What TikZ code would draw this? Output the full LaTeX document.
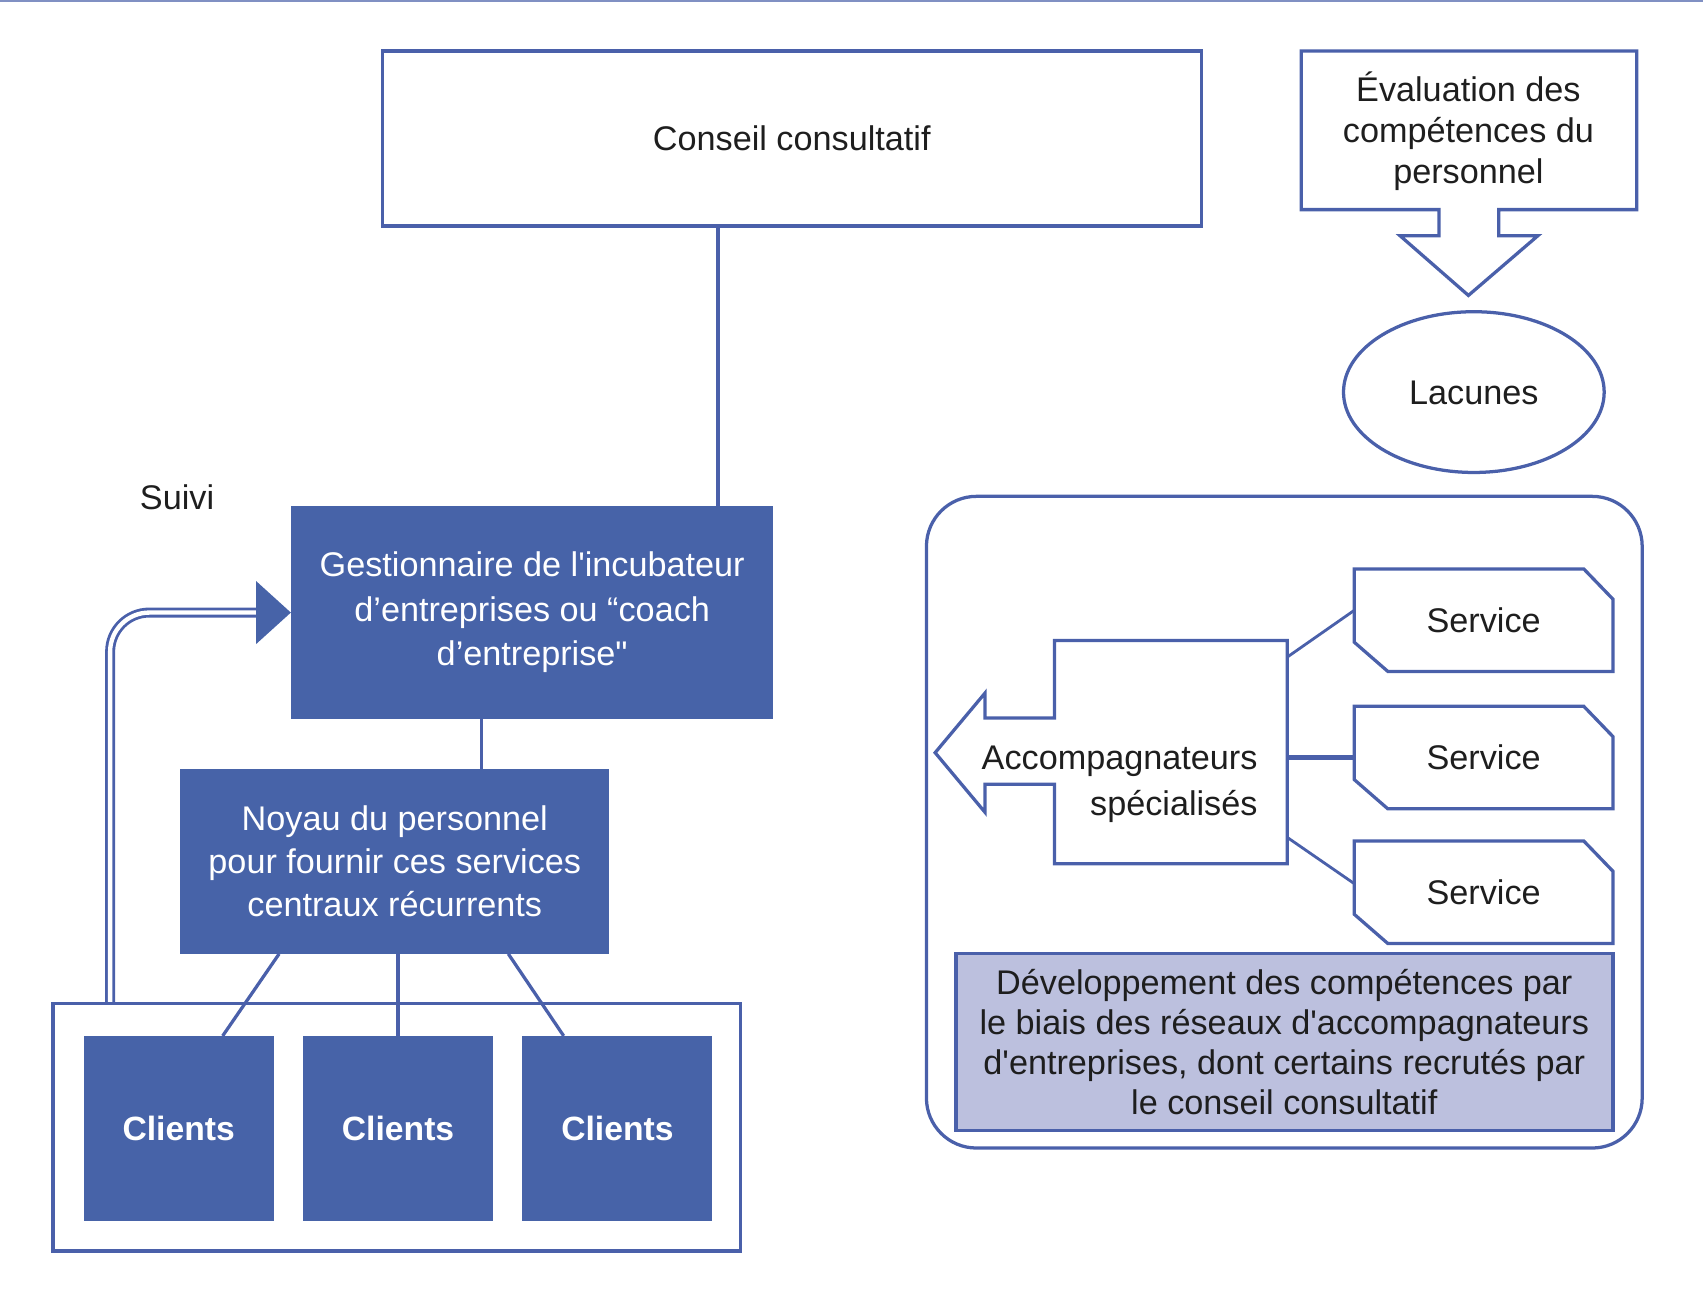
\documentclass[tikz,border=0pt]{standalone}
\usepackage{fontspec}
\setmainfont{Liberation Sans}[Ligatures=TeXOff]
\usetikzlibrary{calc,shapes.geometric}
\definecolor{bfill}{RGB}{71,99,168}
\definecolor{bline}{RGB}{74,96,170}
\definecolor{lav}{RGB}{188,192,222}
\definecolor{txt}{RGB}{30,30,30}
\begin{document}
\begin{tikzpicture}[x=1pt,y=-1pt,
  every node/.style={font=\fontsize{31.5}{38}\selectfont, text=txt, inner sep=0pt, align=center},
  wbox/.style={draw=bline, line width=3.2pt, fill=white, rectangle},
  bbox/.style={fill=bfill, rectangle, text=white},
  conn/.style={draw=bline, line width=3pt},
  outl/.style={draw=bline, line width=3pt, line join=miter},
  svc/.style={rectangle, minimum width=238pt, minimum height=94pt},
  dbl/.style={draw=bline, double=white, double distance=4pt, line width=2.6pt}
]
\useasboundingbox (0,0) rectangle (1568,1187);
\draw[draw=bline!70, line width=1.5pt] (0,1) -- (1568,1);

% Conseil consultatif
\node[wbox, minimum width=754pt, minimum height=161pt] (conseil) at (729,127.5) {Conseil consultatif};

% Gestionnaire
\node[bbox, minimum width=444pt, minimum height=196pt, font=\fontsize{31.5}{41}\selectfont] (gest) at (490,564)
  {Gestionnaire de l'incubateur\\d’entreprises ou “coach\\d’entreprise"};

% Noyau
\node[bbox, minimum width=395pt, minimum height=170pt, font=\fontsize{31.5}{40}\selectfont] (noyau) at (363.5,793)
  {Noyau du personnel\\pour fournir ces services\\centraux récurrents};

% Clients
\node[wbox, minimum width=633pt, minimum height=228pt] (cl) at (365.5,1038) {};
\node[bbox, minimum width=175pt, minimum height=170pt, font=\fontsize{31}{38}\selectfont\bfseries] (c1) at (164.5,1039) {Clients};
\node[bbox, minimum width=175pt, minimum height=170pt, font=\fontsize{31}{38}\selectfont\bfseries] (c2) at (366.5,1039) {Clients};
\node[bbox, minimum width=175pt, minimum height=170pt, font=\fontsize{31}{38}\selectfont\bfseries] (c3) at (568.5,1039) {Clients};

% connectors left
\coordinate (cg) at (661,0);
\draw[conn] (conseil.south -| cg) -- (gest.north -| cg);
\coordinate (gn) at (443,0);
\draw[conn] (gest.south -| gn) -- (noyau.north -| gn);
\draw[conn] ([xshift=-106.5pt]noyau.south) -- ([xshift=40.5pt]c1.north);
\draw[conn] (noyau.south -| c2.north) -- (c2.north);
\draw[conn] ([xshift=104.5pt]noyau.south) -- ([xshift=-49.5pt]c3.north);

% Suivi
\node (suivi) at (163,458) {Suivi};
\draw[dbl, rounded corners=36pt] ([xshift=54pt]cl.north west) |- ([xshift=-30pt]gest.west);
\fill[bfill] (gest.west) -- ([xshift=-32pt,yshift=29pt]gest.west) -- ([xshift=-32pt,yshift=-29pt]gest.west) -- cycle;

% Evaluation callout
\coordinate (evalc) at (1352,121);
\draw[outl, fill=white] (1198,47) -- (1507,47) -- (1507,193) -- (1380,193) -- (1380,217) -- (1416,217) -- (1352,272) -- (1289,217) -- (1325,217) -- (1325,193) -- (1198,193) -- cycle;
\node (eval) at (evalc) {\fontsize{31.5}{37}\selectfont Évaluation des\\compétences du\\personnel};

% Lacunes
\node[draw=bline, line width=3pt, ellipse, minimum width=240pt, minimum height=148pt] (lacs) at (1357,361) {};
\node (lac) at (1357,362) {Lacunes};

% Rounded container
\draw[outl, rounded corners=46pt] (853,457) rectangle (1512,1057);

% Accompagnateurs shape
\node[rectangle, minimum width=214pt, minimum height=205pt] (acc) at (1078,692.5) {};
\draw[outl, fill=white] (acc.north east) -- (acc.south east) -- (acc.south west) -- (971,722) -- (907,722) -- (907,748) -- (861,693) -- (907,638) -- (907,661) -- (971,661) -- (acc.north west) -- cycle;
\node[anchor=east, align=right, font=\fontsize{31.5}{42}\selectfont] (acct) at (1158,722) {Accompagnateurs\\spécialisés};

% Services
\foreach \n/\yy in {s1/571, s2/697.5, s3/821.5}{
  \node[svc] (\n) at (1366,\yy) {};
  \draw[outl, fill=white] (\n.north west) -- ([xshift=-27pt]\n.north east) -- ([yshift=-28pt]\n.north east) -- (\n.south east) -- ([xshift=31pt]\n.south west) -- ([yshift=27pt]\n.south west) -- cycle;
  \node at (\n) {Service};
}
\draw[conn, line width=2.6pt] ([yshift=87.5pt]acc.east) -- ([yshift=9pt]s1.west);
\draw[conn, line width=4pt] (acc.east |- s2.west) -- (s2.west);
\draw[conn, line width=2.6pt] ([yshift=-78.5pt]acc.east) -- ([yshift=8pt]s3.west);

% Developpement
\node[draw=bline, line width=3.4pt, fill=lav, minimum width=605pt, minimum height=163pt, font=\fontsize{31.5}{37}\selectfont] (dev) at (1182.5,959.5)
  {Développement des compétences par\\le biais des réseaux d'accompagnateurs\\d'entreprises, dont certains recrutés par\\le conseil consultatif};
\end{tikzpicture}
\end{document}
